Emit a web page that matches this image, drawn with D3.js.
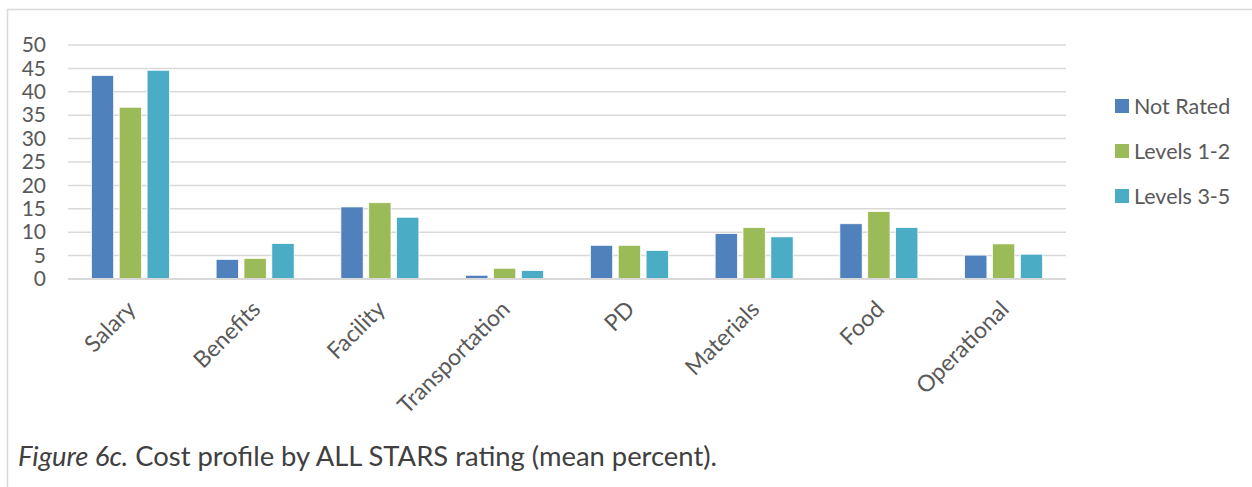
<!DOCTYPE html>
<html lang="en">
<head>
    <meta charset="UTF-8">
    <title>Figure 6c - Cost profile by ALL STARS rating</title>
    <style>
        body {
            margin: 0;
            padding: 0;
            background: #ffffff;
            font-family: Lato, "Open Sans", sans-serif;
        }
        svg text {
            fill: #595959;
        }
    </style>
</head>
<body>
    <div id="chart"></div>
    <script src="https://d3js.org/d3.v7.min.js"></script>
    <script>
        const categories = ['Salary', 'Benefits', 'Facility', 'Transportation', 'PD', 'Materials', 'Food', 'Operational'];
        const seriesNames = ['Not Rated', 'Levels 1-2', 'Levels 3-5'];
        const notRated = [43.5, 4.2, 15.4, 0.8, 7.2, 9.7, 11.8, 5.1];
        const levels12 = [36.7, 4.4, 16.3, 2.3, 7.2, 11.0, 14.4, 7.5];
        const levels35 = [44.6, 7.6, 13.2, 1.8, 6.1, 9.0, 11.0, 5.3];
        const yTicks = [0, 5, 10, 15, 20, 25, 30, 35, 40, 45, 50];
        const colors = ['#4f81bd', '#9bbb59', '#4bacc6'];

        const seriesValues = [notRated, levels12, levels35];

        const width = 1252, height = 487;
        const plot = { left: 68, right: 1066, top: 45, bottom: 279 };
        const groupWidth = 78;

        const svg = d3.select('#chart').append('svg')
            .attr('width', width)
            .attr('height', height);

        // outer frame (only top and left edges visible)
        svg.append('path')
            .attr('d', `M7.5,${height} V9.5 H${width}`)
            .attr('fill', 'none')
            .attr('stroke', '#d9d9d9')
            .attr('stroke-width', 1.5);

        const x = d3.scaleBand()
            .domain(categories)
            .range([plot.left, plot.right]);

        const x1 = d3.scaleBand()
            .domain(seriesNames)
            .range([0, groupWidth])
            .paddingInner(0.2);

        const y = d3.scaleLinear()
            .domain([0, 50])
            .range([plot.bottom, plot.top]);

        // gridlines
        svg.append('g')
            .selectAll('line')
            .data(yTicks.filter(d => d > 0))
            .join('line')
            .attr('x1', plot.left)
            .attr('x2', plot.right)
            .attr('y1', d => y(d))
            .attr('y2', d => y(d))
            .attr('stroke', '#d9d9d9')
            .attr('stroke-width', 1.5);

        // y axis labels
        const yAxis = svg.append('g')
            .attr('transform', `translate(${plot.left - 22},0)`)
            .call(d3.axisLeft(y).tickValues(yTicks).tickSize(0).tickPadding(0));
        yAxis.select('.domain').remove();
        yAxis.selectAll('text')
            .style('font-family', 'Lato, sans-serif')
            .style('font-size', '21px')
            .attr('fill', '#595959');

        // bars
        const groups = svg.append('g')
            .selectAll('g')
            .data(categories)
            .join('g')
            .attr('transform', d => `translate(${x(d) + x.bandwidth() / 2 - groupWidth / 2},0)`);

        groups.selectAll('rect')
            .data((d, i) => seriesNames.map((s, j) => ({ series: s, value: seriesValues[j][i], idx: j })))
            .join('rect')
            .attr('x', d => x1(d.series))
            .attr('width', x1.bandwidth())
            .attr('y', d => y(d.value))
            .attr('height', d => y(0) - y(d.value))
            .attr('fill', d => colors[d.idx])
            .attr('stroke', '#ffffff')
            .attr('stroke-width', 0.75);

        // baseline
        svg.append('line')
            .attr('x1', plot.left)
            .attr('x2', plot.right)
            .attr('y1', y(0))
            .attr('y2', y(0))
            .attr('stroke', '#d9d9d9')
            .attr('stroke-width', 2);

        // category labels, rotated
        svg.append('g')
            .selectAll('text')
            .data(categories)
            .join('text')
            .attr('transform', d => `translate(${x(d) + x.bandwidth() / 2 + 1},${plot.bottom + 26}) rotate(-45)`)
            .attr('text-anchor', 'end')
            .attr('dy', '0.35em')
            .style('font-size', '23px')
            .text(d => d);

        // legend
        const legend = svg.append('g')
            .attr('transform', 'translate(1115,106)')
            .selectAll('g')
            .data(seriesNames)
            .join('g')
            .attr('transform', (d, i) => `translate(0,${i * 45})`);

        legend.append('rect')
            .attr('x', 0)
            .attr('y', -7)
            .attr('width', 14)
            .attr('height', 14)
            .attr('fill', (d, i) => colors[i]);

        legend.append('text')
            .attr('x', 19)
            .attr('dy', '0.35em')
            .style('font-size', '21.5px')
            .text(d => d);

        // caption
        const caption = svg.append('text')
            .attr('x', 18)
            .attr('y', 466)
            .style('font-size', '27.4px')
            .style('fill', '#404040');
        caption.append('tspan')
            .style('font-style', 'italic')
            .style('fill', '#404040')
            .text('Figure 6c.');
        caption.append('tspan')
            .style('fill', '#404040')
            .text(' Cost profile by ALL STARS rating (mean percent).');
    </script>
</body>
</html>
